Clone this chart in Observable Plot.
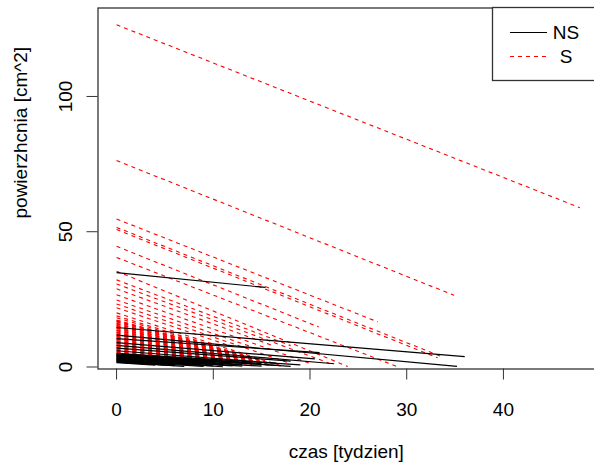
<!DOCTYPE html>
<html><head><meta charset="utf-8">
<script src="https://cdn.jsdelivr.net/npm/d3@7"></script>
<script src="https://cdn.jsdelivr.net/npm/@observablehq/plot@0.6"></script>
<style>
body{margin:0;background:#fff;}
#wrap{width:594px;height:471px;overflow:hidden;position:relative;background:#fff;}
#wrap svg{max-width:none !important;}
</style></head><body><div id="wrap"></div>
<script>
// NS group: value at week 0, last week, value at last week
const nsStart   = [34.9, 14.6, 11.8, 10.5, 9.0, 8.0, 7.0, 6.0, 5.0, 4.8, 4.6, 4.4, 4.2, 4.0, 3.8, 3.6, 3.4, 3.2, 3.0, 2.8, 2.6, 2.4, 2.2, 2.0, 1.8, 1.6,
                   4.9, 4.5, 4.1, 3.5, 2.9, 2.5, 1.9];
const nsEndWeek = [15.4, 36.0, 35.2, 21.0, 20.5, 22.5, 18.0, 16.5, 19, 14, 12, 17, 10, 13, 9, 15, 11, 8, 12, 7, 10, 6, 9, 5, 7, 4,
                   15, 18, 11, 13, 9, 11, 6];
const nsEnd     = [29.4, 3.8, 0.2, 5.3, 3.0, 1.2, 2.2, 1.4, 0.8, 1.4, 1.6, 0.5, 1.7, 0.9, 1.5, 0.3, 0.8, 1.2, 0.4, 1.1, 0.4, 0.9, 0.2, 0.8, 0.2, 0.7,
                   1.2, 0.2, 1.3, 0.3, 0.7, 0.1, 0.5];

// S group: value at week 0, last week, value at last week
const sStart   = [126.5, 76.3, 54.7, 51.6, 50.8, 44.6, 40.5, 35.4,
                  32.2, 30.7, 28.9, 26.7, 24.8, 23.3, 21.9, 20.0, 18.9, 18.2,
                  17.4, 17.0, 16.6, 16.2, 15.8, 15.4, 15.0, 14.6, 14.2, 13.8, 13.4, 13.0, 12.6, 12.2, 11.8, 11.4,
                  11.0, 10.6, 10.2, 9.8, 9.4, 9.0, 8.6, 8.2, 7.8, 7.4, 7.0, 6.6, 6.2, 5.8, 5.4,
                  17.2, 16.8, 16.0, 15.2, 14.4, 13.6, 12.8, 12.0, 11.2, 10.4, 9.6, 8.8, 8.0, 7.2, 6.4, 5.6];
const sEndWeek = [47.9, 34.9, 27.0, 33.5, 33.2, 20.9, 28.9, 23.9,
                  18, 22, 16, 20, 14, 18, 12, 17, 10, 15,
                  14, 16, 12, 15, 13, 16, 11, 14, 15, 12, 16, 10, 14, 13, 15, 9,
                  12, 14, 11, 13, 8, 12, 10, 13, 9, 11, 7, 10, 8, 11, 6,
                  13, 15, 14, 12, 16, 13, 11, 15, 13, 12, 14, 9, 12, 10, 12, 9];
const sEnd     = [58.9, 26.5, 16.7, 4.0, 3.4, 14.8, 0.3, 0.2,
                  7.9, 1.4, 8.1, 1.3, 7.4, 1.3, 7.5, 0.45, 7.9, 2.45,
                  3.4, 1.3, 5.1, 2.1, 3.7, 0.8, 5.2, 2.4, 1.5, 3.8, 0.4, 5.0, 1.7, 2.3, 0.7, 4.9,
                  2.5, 0.9, 2.8, 1.4, 4.4, 1.7, 2.6, 0.7, 2.8, 1.5, 3.4, 1.6, 2.3, 0.6, 2.7,
                  4.3, 2.25, 3.0, 4.4, 0.6, 2.9, 4.1, 0.75, 2.0, 2.2, 0.6, 3.3, 1.2, 1.9, 0.5, 1.5];

const xTicks = [0, 10, 20, 30, 40];
const yTicks = [0, 50, 100];
const legendLabels = ["NS", "S"];
const xLabel = "czas [tydzien]";
const yLabel = "powierzhcnia [cm^2]";

const nsSegs = nsStart.map((v, i) => ({x1: 0, y1: v, x2: nsEndWeek[i], y2: nsEnd[i]}));
const sSegs = sStart.map((v, i) => ({x1: 0, y1: v, x2: sEndWeek[i], y2: sEnd[i]}));

const FONT = "'Liberation Sans', Arial, sans-serif";
const FS = 19;

const plot = Plot.plot({
  width: 604,
  height: 471,
  marginLeft: 97.5,
  marginRight: 0,
  marginTop: 7.5,
  marginBottom: 102.5,
  style: {fontFamily: FONT, fontSize: FS + "px", background: "#fff", color: "#000", maxWidth: "none"},
  x: {domain: [-1.92, 50.45]},
  y: {domain: [-0.74, 132.7]},
  marks: [
    Plot.link(sSegs, {x1: "x1", y1: "y1", x2: "x2", y2: "y2", stroke: "#ff0000", strokeWidth: 1.1, strokeDasharray: "4,4"}),
    Plot.link(nsSegs, {x1: "x1", y1: "y1", x2: "x2", y2: "y2", stroke: "#000", strokeWidth: 1.2}),
    Plot.frame({stroke: "#333", strokeWidth: 1.3}),
    Plot.axisX({ticks: xTicks, tickSize: 11, tickPadding: 22, label: null, stroke: "#333", fill: "#000", fontSize: FS}),
    Plot.axisY({ticks: yTicks, tickSize: 11, tickPadding: 15, tickRotate: -90, label: null, stroke: "#333", fill: "#000", fontSize: FS}),
    Plot.text([xLabel], {frameAnchor: "bottom", dx: -5, dy: 88.5, fontSize: FS, fill: "#000"}),
    Plot.text([yLabel], {frameAnchor: "left", rotate: -90, dx: -77.5, dy: 30, fontSize: FS, fill: "#000"})
  ]
});
plot.style.maxWidth = "none";
plot.setAttribute("width", 604);

const svg = d3.select(plot);
const lg = svg.append("g");
lg.append("rect").attr("x", 492.5).attr("y", 7.5).attr("width", 200).attr("height", 73)
  .attr("fill", "#fff").attr("stroke", "#333").attr("stroke-width", 1.3);
const legendStyles = [{stroke: "#000", dash: null}, {stroke: "#ff0000", dash: "4,4"}];
legendLabels.forEach((lab, i) => {
  const yy = 32.5 + i * 24;
  lg.append("line").attr("x1", 510).attr("x2", 547).attr("y1", yy).attr("y2", yy)
    .attr("stroke", legendStyles[i].stroke).attr("stroke-width", 1)
    .attr("stroke-dasharray", legendStyles[i].dash);
  lg.append("text").attr("x", 566).attr("y", yy).attr("dy", "0.36em")
    .attr("font-family", FONT).attr("font-size", FS).attr("fill", "#000").text(lab);
});

document.getElementById("wrap").appendChild(plot);
</script>
</body></html>
